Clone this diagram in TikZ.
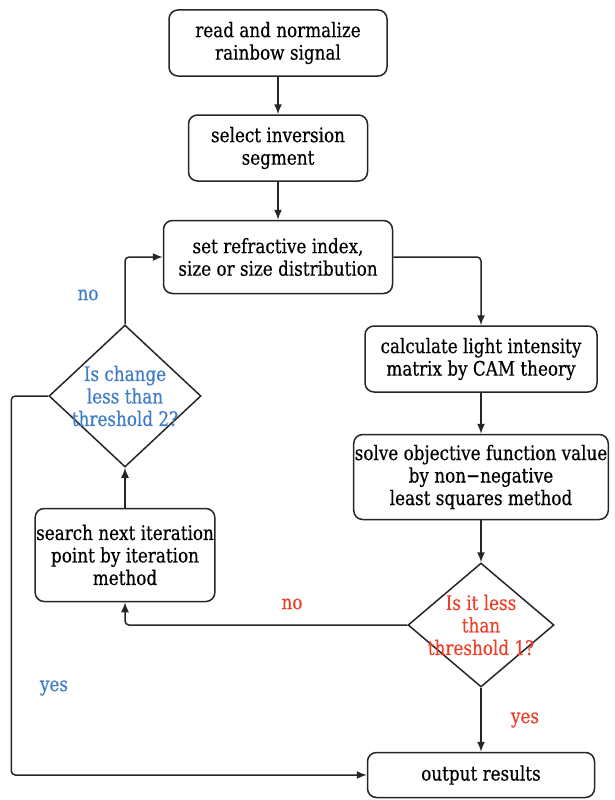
\documentclass[tikz,border=0pt]{standalone}
\usepackage{fontspec}
\setmainfont{DejaVu Serif}[FakeStretch=0.84,FakeBold=0.4]
\usetikzlibrary{arrows.meta,shapes.geometric}
\definecolor{nobranch}{RGB}{62,124,200}
\definecolor{thresh}{RGB}{236,64,40}
\tikzset{
  procbox/.style={draw=black!85,line width=1.5pt,rounded corners=9pt,align=center,
    font=\fontsize{20}{22.5}\selectfont,inner sep=1pt},
  decision/.style={draw=black!85,line width=1.5pt,diamond,inner sep=0pt},
  flow/.style={line width=1.5pt,draw=black!85,rounded corners=4pt,-{Latex[length=10pt,width=8pt]}},
  lbl/.style={font=\fontsize{20}{22.5}\selectfont,align=center}
}
\begin{document}
\begin{tikzpicture}[x=1pt,y=-1pt]
  \useasboundingbox (0,0) rectangle (615,800);

  % main column
  \node[procbox,minimum width=218pt,minimum height=66pt] (read) at (278,43) {read and normalize\\rainbow signal};
  \node[procbox,minimum width=179pt,minimum height=66pt] (select) at (278,148) {select inversion\\segment};
  \node[procbox,minimum width=229pt,minimum height=73pt] (setidx) at (278,257) {set refractive index,\\size or size distribution};

  % right column
  \node[procbox,minimum width=232pt,minimum height=66pt] (calc) at (481,359) {calculate light intensity\\matrix by CAM theory};
  \node[procbox,minimum width=253pt,minimum height=85pt] (solve) at (481,477) {solve objective function value\\by non−negative\\least squares method};
  \node[decision,minimum width=146pt,minimum height=124pt] (thr1) at (481,625) {};
  \node[lbl,text=thresh] (thr1txt) at (thr1) {Is it less\\than\\threshold 1?};
  \node[procbox,minimum width=227pt,minimum height=45pt] (output) at (481,775) {output results};

  % left loop
  \node[procbox,minimum width=178pt,minimum height=93pt] (search) at (125,555) {search next iteration\\point by iteration\\method};
  \node[decision,minimum width=152pt,minimum height=142pt] (thr2) at (125,396) {};
  \node[lbl,text=nobranch] (thr2txt) at (thr2) {Is change\\less than\\threshold 2?};

  % connectors
  \draw[flow] (read) -- (select);
  \draw[flow] (select) -- (setidx);
  \draw[flow] (setidx.east) -| (calc.north);
  \draw[flow] (calc) -- (solve);
  \draw[flow] (solve) -- (thr1);
  \draw[flow] (thr1) -- (output);
  \draw[flow] (thr1.west) -| (search.south);
  \draw[flow] (search) -- (thr2);
  \draw[flow] (thr2.north) |- (setidx.west);
  \draw[flow] (thr2.west) -- ++(-37,0) |- (output.west);

  % branch labels
  \node[lbl,text=nobranch] (no2) at (88,295) {no};
  \node[lbl,text=nobranch] (yes2) at (54,688) {yes};
  \node[lbl,text=thresh] (no1) at (292,604) {no};
  \node[lbl,text=thresh] (yes1) at (525,720) {yes};
\end{tikzpicture}
\end{document}
